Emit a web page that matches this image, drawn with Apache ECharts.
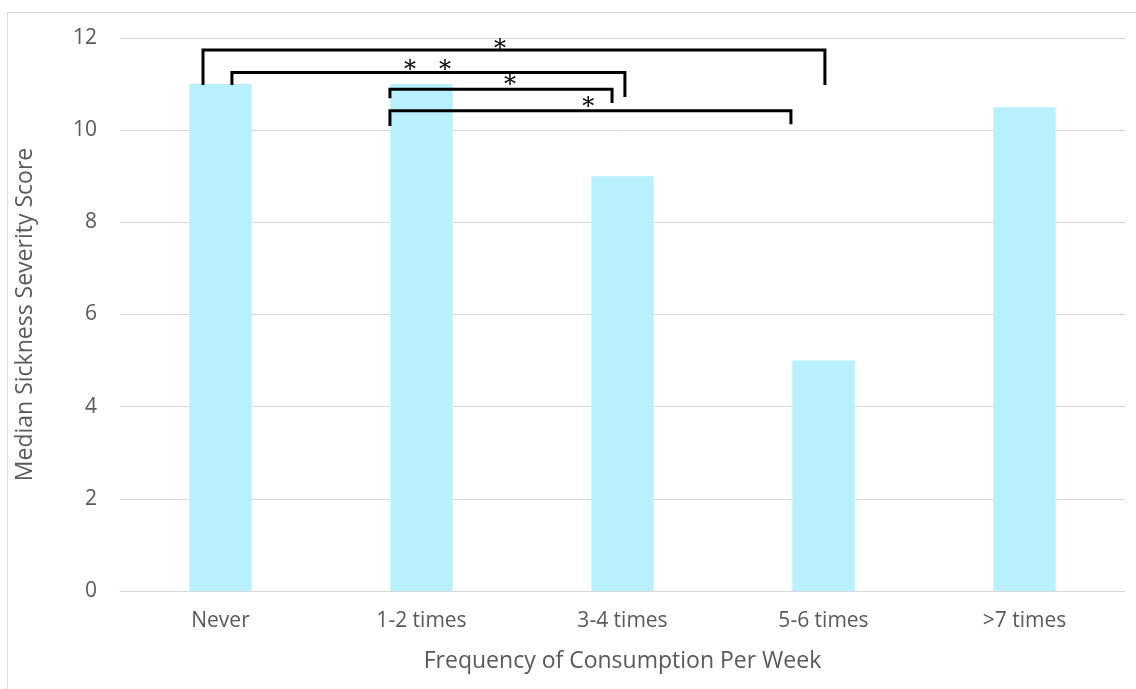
<!DOCTYPE html>
<html>
<head>
<meta charset="utf-8">
<script src="https://cdn.jsdelivr.net/npm/echarts@6/dist/echarts.min.js"></script>
<style>
html,body{margin:0;padding:0;background:#fff;}
#chart{width:1136px;height:689px;}
</style>
</head>
<body>
<div id="chart"></div>
<script>
// ---- data ----
const categories = ['Never', '1-2 times', '3-4 times', '5-6 times', '>7 times'];
const medianScores = [11, 11, 9, 5, 10.5];
const yTicks = [0, 2, 4, 6, 8, 10, 12];

// significance brackets (x in category-index units, y in score units)
const bracketLeftX   = [-0.087, 0.057, 0.843, 0.843];
const bracketRightX  = [3.007, 2.012, 1.948, 2.838];
const bracketLevel   = [11.74, 11.25, 10.89, 10.42];
const bracketLeftEnd = [10.98, 10.98, 10.69, 10.09];
const bracketRightEnd= [10.98, 10.72, 10.59, 10.13];
const starLabels = ['*', '*   *', '*', '*'];
const starX      = [1.39, 1.03, 1.44, 1.83];
const starY      = [11.68, 11.22, 10.89, 10.42];

const chart = echarts.init(document.getElementById('chart'));
const font = '"Open Sans", sans-serif';

const bracketData = bracketLeftX.map((v, i) => [v, bracketRightX[i], bracketLevel[i], bracketLeftEnd[i], bracketRightEnd[i]]);
const starData = starX.map((v, i) => [v, starY[i]]);

chart.setOption({
  animation: false,
  backgroundColor: '#fff',
  graphic: [{
    type: 'rect',
    shape: { x: 7.5, y: 12.5, width: 1140, height: 700 },
    style: { fill: 'none', stroke: '#d9d9d9', lineWidth: 1 },
    silent: true, z: -10
  }],
  grid: { left: 120, right: 11, top: 38, bottom: 98 },
  xAxis: [{
    type: 'category',
    data: categories,
    axisTick: { show: false },
    axisLine: { lineStyle: { color: '#d9d9d9', width: 1 } },
    axisLabel: { color: '#595959', fontSize: 21, fontFamily: font, margin: 20 },
    name: 'Frequency of Consumption Per Week',
    nameLocation: 'middle',
    nameGap: 59,
    nameTextStyle: { color: '#595959', fontSize: 23, fontFamily: font }
  }, {
    type: 'value', min: -0.5, max: 4.5, show: false
  }],
  yAxis: {
    type: 'value',
    min: yTicks[0], max: yTicks[yTicks.length - 1], interval: 2,
    axisLine: { show: false },
    axisTick: { show: false },
    splitLine: { lineStyle: { color: '#d9d9d9', width: 1 } },
    axisLabel: { color: '#595959', fontSize: 21, fontFamily: font, margin: 23 },
    name: 'Median Sickness Severity Score',
    nameLocation: 'middle',
    nameGap: 83,
    nameTextStyle: { color: '#595959', fontSize: 23, fontFamily: font }
  },
  series: [{
    type: 'bar',
    data: medianScores,
    barWidth: '31%',
    itemStyle: { color: '#B8F1FD' },
    silent: true
  }, {
    type: 'custom',
    xAxisIndex: 1,
    data: bracketData,
    silent: true,
    z: 5,
    renderItem: function (params, api) {
      const pL = api.coord([api.value(0), api.value(3)]);
      const pTL = api.coord([api.value(0), api.value(2)]);
      const pTR = api.coord([api.value(1), api.value(2)]);
      const pR = api.coord([api.value(1), api.value(4)]);
      return {
        type: 'polyline',
        shape: { points: [pL, pTL, pTR, pR] },
        style: { stroke: '#000', lineWidth: 3, fill: 'none', lineJoin: 'miter' }
      };
    }
  }, {
    type: 'custom',
    xAxisIndex: 1,
    data: starData,
    silent: true,
    z: 6,
    renderItem: function (params, api) {
      const p = api.coord([api.value(0), api.value(1)]);
      return {
        type: 'text',
        x: p[0], y: p[1] + 9,
        style: {
          text: starLabels[params.dataIndex],
          fontSize: 24, fontFamily: '"DejaVu Serif", serif',
          fill: '#000', align: 'center', verticalAlign: 'bottom'
        }
      };
    }
  }]
});
</script>
</body>
</html>
